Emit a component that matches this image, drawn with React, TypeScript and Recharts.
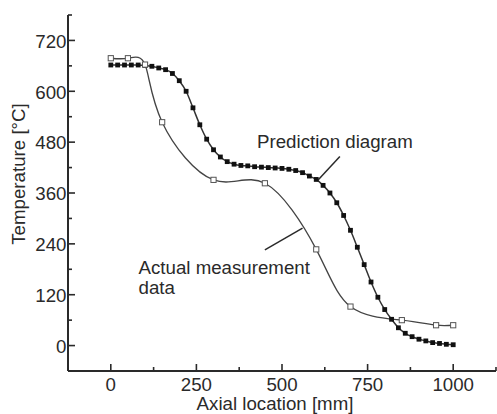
import React from "react";
import { LineChart, Line, XAxis, YAxis, ReferenceLine, Customized } from "recharts";

const predX = [0, 20, 40, 60, 80, 100, 120, 140, 160, 180, 200, 220, 240, 260, 280, 300, 320, 340, 360, 380, 400, 420, 440, 460, 480, 500, 520, 540, 560, 580, 600, 620, 640, 660, 680, 700, 720, 740, 760, 780, 800, 820, 840, 860, 880, 900, 920, 940, 960, 980, 1000];
const predY = [662, 662, 662, 662, 662, 661, 659, 655, 651, 642, 625, 600, 561, 521, 487, 462, 445, 434, 428, 425, 424, 422, 421, 420, 419, 418, 416, 413, 408, 400, 392, 378, 360, 337, 307, 272, 232, 191, 150, 114, 85, 62, 42, 29, 21, 15, 11, 7, 5, 3, 2];

const measX = [0, 50, 100, 150, 300, 450, 600, 700, 850, 950, 1000];
const measY = [678, 678, 663, 527, 391, 383, 227, 92, 60, 48, 48];

const xTicks = [-125, 0, 125, 250, 375, 500, 625, 750, 875, 1000, 1125];
const xLabels = [0, 250, 500, 750, 1000];
const yTicks = [-60, 0, 60, 120, 180, 240, 300, 360, 420, 480, 540, 600, 660, 720, 780];
const yLabels = [0, 120, 240, 360, 480, 600, 720];

const predData = predX.map((x, i) => ({ x, y: predY[i] }));
const measData = measX.map((x, i) => ({ x, y: measY[i] }));

const FONT = "'Liberation Sans', Arial, Helvetica, sans-serif";
const FS = 18.7;
const INK = "#2a2a2a";

const XTick = (props: any) => {
  const { x, y, payload } = props;
  const v = payload.value;
  const major = xLabels.includes(v);
  return (
    <g>
      <line x1={x} x2={x} y1={y} y2={y - (major ? 7 : 4)} stroke={INK} strokeWidth={1.6} />
      {major && (
        <text x={x} y={y + 20} textAnchor="middle" fontFamily={FONT} fontSize={FS} fill={INK}>
          {v}
        </text>
      )}
    </g>
  );
};

const YTick = (props: any) => {
  const { x, y, payload } = props;
  const v = payload.value;
  const major = yLabels.includes(v);
  return (
    <g>
      <line x1={x} x2={x + (major ? 7 : 4)} y1={y} y2={y} stroke={INK} strokeWidth={1.6} />
      {major && (
        <text x={x - 1.5} y={y + 7.3} textAnchor="end" fontFamily={FONT} fontSize={FS} fill={INK}>
          {v}
        </text>
      )}
    </g>
  );
};

const PredDot = (props: any) => {
  const { cx, cy, index } = props;
  if (cx == null || cy == null) return <g key={index} />;
  return <rect key={index} x={cx - 2.4} y={cy - 2.4} width={4.8} height={4.8} fill="#111" />;
};

const MeasDot = (props: any) => {
  const { cx, cy, index } = props;
  if (cx == null || cy == null) return <g key={index} />;
  return <rect key={index} x={cx - 2.6} y={cy - 2.6} width={5.2} height={5.2} fill="#fff" stroke="#555" strokeWidth={1} />;
};

const Texts = () => (
  <g fontFamily={FONT} fontSize={FS} fill={INK}>
    <text x={257} y={147.5}>Prediction diagram</text>
    <text x={138.5} y={273.5}>Actual measurement</text>
    <text x={138.5} y={293.5}>data</text>
    <text x={275} y={410} textAnchor="middle">Axial location [mm]</text>
    <text x={25} y={174} textAnchor="middle" transform="rotate(-90 25 174)">Temperature [°C]</text>
  </g>
);

export default function App() {
  return (
    <div style={{ position: "absolute", left: 0, top: 0, width: 497, height: 414, background: "#fff" }}>
      <LineChart width={497} height={414} margin={{ top: 15, right: 1, bottom: 0, left: 0 }}>
        <XAxis
          type="number"
          dataKey="x"
          domain={[-125, 1125]}
          ticks={xTicks}
          interval={0}
          height={43}
          tickSize={0}
          tickMargin={0}
          tickLine={false}
          tick={<XTick />}
          axisLine={{ stroke: INK, strokeWidth: 2 }}
          allowDataOverflow
        />
        <YAxis
          type="number"
          dataKey="y"
          domain={[-60, 780]}
          ticks={yTicks}
          interval={0}
          width={68}
          tickSize={0}
          tickMargin={0}
          tickLine={false}
          tick={<YTick />}
          axisLine={{ stroke: INK, strokeWidth: 2 }}
          allowDataOverflow
        />
        <ReferenceLine segment={[{ x: 669, y: 446 }, { x: 606, y: 391 }]} stroke={INK} strokeWidth={1.5} ifOverflow="visible" />
        <ReferenceLine segment={[{ x: 450, y: 226 }, { x: 560, y: 277 }]} stroke={INK} strokeWidth={1.5} ifOverflow="visible" />
        <Line
          data={predData}
          dataKey="y"
          type="monotone"
          stroke="#333"
          strokeWidth={1.5}
          dot={<PredDot />}
          activeDot={false}
          isAnimationActive={false}
        />
        <Line
          data={measData}
          dataKey="y"
          type="natural"
          stroke="#444"
          strokeWidth={1.3}
          dot={<MeasDot />}
          activeDot={false}
          isAnimationActive={false}
        />
        <Customized component={Texts} />
      </LineChart>
    </div>
  );
}
